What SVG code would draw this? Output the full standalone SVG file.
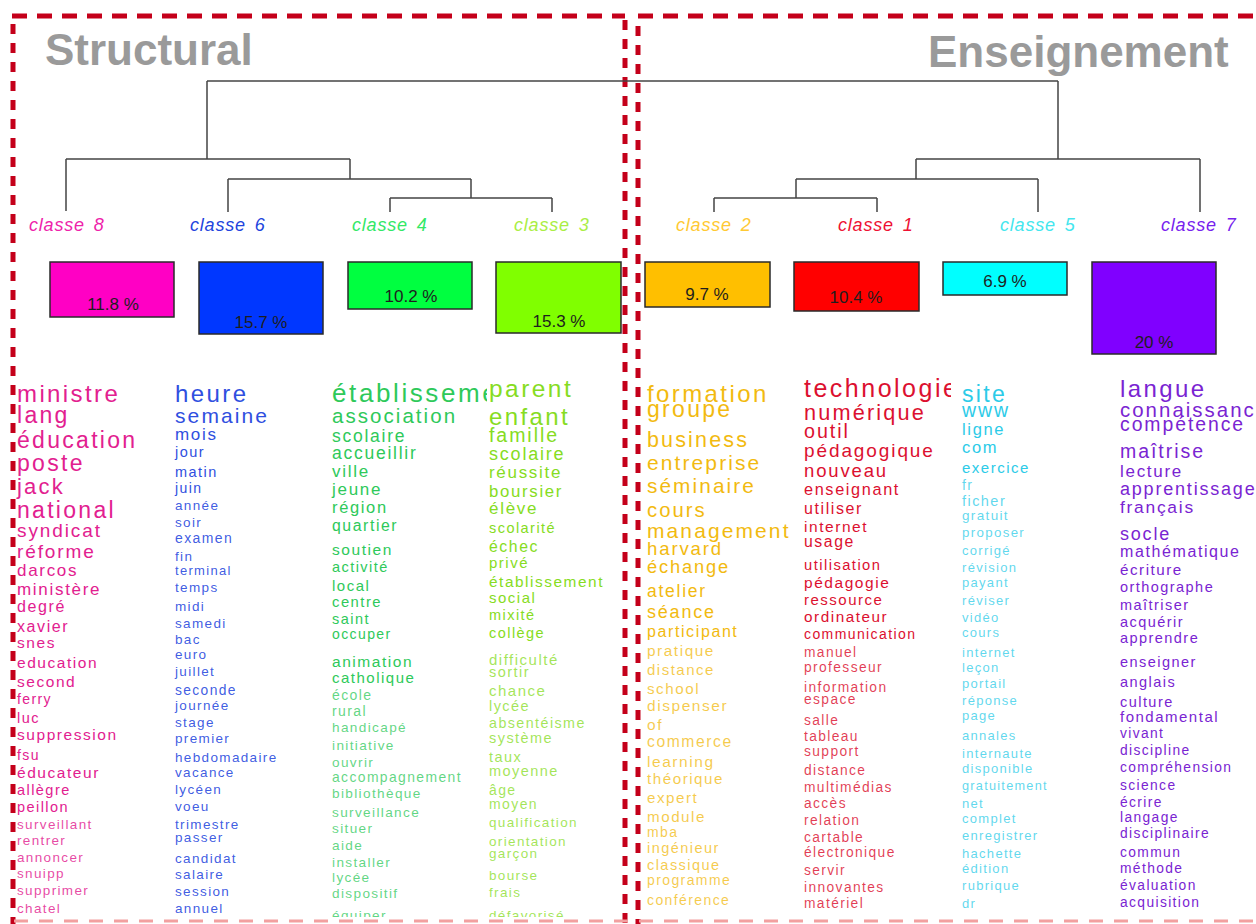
<svg xmlns="http://www.w3.org/2000/svg" width="1256" height="924" viewBox="0 0 1256 924">
<style>
.bg{fill:#fff}
.bh{fill:none;stroke:#c4001a;stroke-width:5;stroke-dasharray:15 10}
.bv{fill:none;stroke:#c4001a;stroke-width:5;stroke-dasharray:10 9}
.bb{fill:none;stroke:#f2a0a0;stroke-width:3;stroke-dasharray:14 11}
.title{font-family:"Liberation Sans",Arial,sans-serif;font-weight:bold;font-size:44px;fill:#9a9a9a}
.lbl{font-family:"Liberation Sans",Arial,sans-serif;font-style:italic;font-size:18px;letter-spacing:0.8px}
.box{stroke:#2a2a2a;stroke-width:1.5}
.pct{font-family:"Liberation Sans",Arial,sans-serif;font-size:17px;fill:#1e1e1e;text-anchor:middle}
.w text{font-family:"Liberation Sans",Arial,sans-serif;letter-spacing:0.1em}
.l{fill-opacity:0.75}
#classe6 .l{fill-opacity:0.93}
#classe1 .l{fill-opacity:0.82}
#classe8 .l{fill-opacity:0.82}
.dendro path{fill:none;stroke:#444;stroke-width:1.5}
</style>
<defs>
<clipPath id="k8"><rect x="0" y="370" width="172" height="547"/></clipPath>
<clipPath id="k6"><rect x="172" y="370" width="156" height="547"/></clipPath>
<clipPath id="k4"><rect x="328" y="370" width="159" height="547"/></clipPath>
<clipPath id="k3"><rect x="487" y="370" width="136" height="547"/></clipPath>
<clipPath id="k2"><rect x="641" y="370" width="155" height="547"/></clipPath>
<clipPath id="k1"><rect x="800" y="370" width="151" height="547"/></clipPath>
<clipPath id="k5"><rect x="955" y="370" width="160" height="547"/></clipPath>
<clipPath id="k7"><rect x="1115" y="370" width="141" height="547"/></clipPath>
</defs>
<rect class="bg" x="0" y="0" width="1256" height="924"/>

<g id="frames">
<path class="bh" d="M12 16H625"/>
<path class="bh" d="M638 16H1256"/>
<path class="bv" d="M13 24V924"/>
<path class="bv" d="M625 20V924"/>
<path class="bv" d="M638 26V924"/>
<path class="bb" d="M14 921H1256"/>
<text class="title" x="45" y="65">Structural</text>
<text class="title" x="928" y="67">Enseignement</text>
</g>

<g id="connectors" class="dendro">
<path d="M207 81H1058"/>
<path d="M207 81V159M66 159H350M66 159V211M350 159V179M228 179H471M228 179V212M471 179V198M390 198H552M390 198V212M552 198V212"/>
<path d="M1058 81V159M916 159H1200M1200 159V212M916 159V179M796 179H1038M1038 179V212M796 179V198M714 198H877M714 198V212M877 198V212"/>
</g>

<g id="classe8">
<text class="lbl" x="29" y="231" fill="#ee22aa">classe<tspan dx="9">8</tspan></text>
<rect class="box" x="50" y="262" width="124" height="55" fill="#ff00c4"/>
<text class="pct" x="113" y="310">11.8 %</text>
<g class="w" fill="#e2208f" clip-path="url(#k8)">
<text x="17" y="402" font-size="24">ministre</text>
<text x="17" y="423" font-size="23">lang</text>
<text x="17" y="448" font-size="23">éducation</text>
<text x="17" y="471" font-size="23">poste</text>
<text x="17" y="494" font-size="22">jack</text>
<text x="17" y="518" font-size="23">national</text>
<text x="17" y="537" font-size="19">syndicat</text>
<text x="17" y="558" font-size="19">réforme</text>
<text x="17" y="576" font-size="17">darcos</text>
<text x="17" y="595" font-size="17">ministère</text>
<text x="17" y="612" font-size="16">degré</text>
<text x="17" y="632" font-size="16">xavier</text>
<text x="17" y="648" font-size="15.5">snes</text>
<text x="17" y="668" font-size="15.5">education</text>
<text x="17" y="687" font-size="15.5">second</text>
<text x="17" y="704" font-size="14">ferry</text>
<text x="17" y="723" font-size="14.5">luc</text>
<text x="17" y="740" font-size="15.5">suppression</text>
<text x="17" y="760" font-size="14">fsu</text>
<text x="17" y="778" font-size="15.5">éducateur</text>
<text x="17" y="795" font-size="14.5">allègre</text>
<text x="17" y="812" font-size="14.5">peillon</text>
<text class="l" x="17" y="829" font-size="13.5">surveillant</text>
<text class="l" x="17" y="845" font-size="13.5">rentrer</text>
<text class="l" x="17" y="862" font-size="13.5">annoncer</text>
<text class="l" x="17" y="878" font-size="13.5">snuipp</text>
<text class="l" x="17" y="895" font-size="13.5">supprimer</text>
<text class="l" x="17" y="913" font-size="13.5">chatel</text>
</g>
</g>

<g id="classe6">
<text class="lbl" x="190" y="231" fill="#2244dd">classe<tspan dx="9">6</tspan></text>
<rect class="box" x="199" y="262" width="124" height="72" fill="#0037ff"/>
<text class="pct" x="261" y="328">15.7 %</text>
<g class="w" fill="#2f4fe0" clip-path="url(#k6)">
<text x="175" y="402" font-size="24">heure</text>
<text x="175" y="423" font-size="21">semaine</text>
<text x="175" y="440" font-size="17">mois</text>
<text x="175" y="457" font-size="14.5">jour</text>
<text x="175" y="477" font-size="14.5">matin</text>
<text x="175" y="493" font-size="14">juin</text>
<text class="l" x="175" y="510" font-size="13.5">année</text>
<text class="l" x="175" y="527" font-size="13.5">soir</text>
<text class="l" x="175" y="543" font-size="14">examen</text>
<text class="l" x="175" y="561" font-size="13.5">fin</text>
<text class="l" x="175" y="575" font-size="13">terminal</text>
<text class="l" x="175" y="592" font-size="13.5">temps</text>
<text class="l" x="175" y="611" font-size="13.5">midi</text>
<text class="l" x="175" y="628" font-size="13.5">samedi</text>
<text class="l" x="175" y="644" font-size="13.5">bac</text>
<text class="l" x="175" y="659" font-size="13.5">euro</text>
<text class="l" x="175" y="676" font-size="13.5">juillet</text>
<text class="l" x="175" y="695" font-size="13.8">seconde</text>
<text class="l" x="175" y="710" font-size="13.5">journée</text>
<text class="l" x="175" y="727" font-size="13.5">stage</text>
<text class="l" x="175" y="743" font-size="13.5">premier</text>
<text class="l" x="175" y="762" font-size="13.5">hebdomadaire</text>
<text class="l" x="175" y="777" font-size="13.5">vacance</text>
<text class="l" x="175" y="794" font-size="13.5">lycéen</text>
<text class="l" x="175" y="811" font-size="13.5">voeu</text>
<text class="l" x="175" y="829" font-size="13.5">trimestre</text>
<text class="l" x="175" y="842" font-size="13.5">passer</text>
<text class="l" x="175" y="863" font-size="13.5">candidat</text>
<text class="l" x="175" y="879" font-size="13.5">salaire</text>
<text class="l" x="175" y="896" font-size="13.5">session</text>
<text class="l" x="175" y="913" font-size="13.5">annuel</text>
</g>
</g>

<g id="classe4">
<text class="lbl" x="352" y="231" fill="#33e866">classe<tspan dx="9">4</tspan></text>
<rect class="box" x="348" y="262" width="124" height="47" fill="#00ff40"/>
<text class="pct" x="411" y="302">10.2 %</text>
<g class="w" fill="#2ec95a" clip-path="url(#k4)">
<text x="332" y="402" font-size="26">établissement</text>
<text x="332" y="423" font-size="20.5">association</text>
<text x="332" y="442" font-size="17.5">scolaire</text>
<text x="332" y="459" font-size="17.5">accueillir</text>
<text x="332" y="477" font-size="17">ville</text>
<text x="332" y="495" font-size="17">jeune</text>
<text x="332" y="513" font-size="16.5">région</text>
<text x="332" y="531" font-size="15.8">quartier</text>
<text x="332" y="555" font-size="15.5">soutien</text>
<text x="332" y="572" font-size="14.5">activité</text>
<text x="332" y="591" font-size="15">local</text>
<text x="332" y="607" font-size="14.8">centre</text>
<text x="332" y="624" font-size="14.5">saint</text>
<text x="332" y="639" font-size="14">occuper</text>
<text x="332" y="667" font-size="15.5">animation</text>
<text x="332" y="683" font-size="15">catholique</text>
<text class="l" x="332" y="700" font-size="14">école</text>
<text class="l" x="332" y="716" font-size="14">rural</text>
<text class="l" x="332" y="732" font-size="13.6">handicapé</text>
<text class="l" x="332" y="750" font-size="13.6">initiative</text>
<text class="l" x="332" y="767" font-size="13.6">ouvrir</text>
<text class="l" x="332" y="782" font-size="13.9">accompagnement</text>
<text class="l" x="332" y="798" font-size="13.6">bibliothèque</text>
<text class="l" x="332" y="817" font-size="13.6">surveillance</text>
<text class="l" x="332" y="833" font-size="13.6">situer</text>
<text class="l" x="332" y="850" font-size="13.6">aide</text>
<text class="l" x="332" y="867" font-size="13.6">installer</text>
<text class="l" x="332" y="882" font-size="13.6">lycée</text>
<text class="l" x="332" y="898" font-size="13.6">dispositif</text>
<text class="l" x="332" y="920" font-size="13.6">équiper</text>
</g>
</g>

<g id="classe3">
<text class="lbl" x="514" y="231" fill="#aaee44">classe<tspan dx="9">3</tspan></text>
<rect class="box" x="496" y="262" width="125" height="71" fill="#80ff00"/>
<text class="pct" x="559" y="327">15.3 %</text>
<g class="w" fill="#86dc22" clip-path="url(#k3)">
<text x="489" y="397" font-size="24.5">parent</text>
<text x="489" y="425" font-size="24">enfant</text>
<text x="489" y="442" font-size="19.5">famille</text>
<text x="489" y="460" font-size="18">scolaire</text>
<text x="489" y="478" font-size="17">réussite</text>
<text x="489" y="497" font-size="16.8">boursier</text>
<text x="489" y="514" font-size="17">élève</text>
<text x="489" y="533" font-size="14.5">scolarité</text>
<text x="489" y="552" font-size="15.8">échec</text>
<text x="489" y="568" font-size="15">privé</text>
<text x="489" y="587" font-size="15.4">établissement</text>
<text x="489" y="603" font-size="15">social</text>
<text x="489" y="620" font-size="14.5">mixité</text>
<text x="489" y="638" font-size="14.5">collège</text>
<text class="l" x="489" y="665" font-size="15">difficulté</text>
<text class="l" x="489" y="677" font-size="14.5">sortir</text>
<text class="l" x="489" y="696" font-size="15">chance</text>
<text class="l" x="489" y="711" font-size="14.5">lycée</text>
<text class="l" x="489" y="728" font-size="14.3">absentéisme</text>
<text class="l" x="489" y="743" font-size="14.5">système</text>
<text class="l" x="489" y="762" font-size="14.5">taux</text>
<text class="l" x="489" y="776" font-size="14.5">moyenne</text>
<text class="l" x="489" y="795" font-size="14">âge</text>
<text class="l" x="489" y="809" font-size="14">moyen</text>
<text class="l" x="489" y="827" font-size="13.5">qualification</text>
<text class="l" x="489" y="846" font-size="13.5">orientation</text>
<text class="l" x="489" y="858" font-size="13.5">garçon</text>
<text class="l" x="489" y="880" font-size="13.5">bourse</text>
<text class="l" x="489" y="897" font-size="13.5">frais</text>
<text class="l" x="489" y="920" font-size="13.5">défavorisé</text>
</g>
</g>

<g id="classe2">
<text class="lbl" x="676" y="231" fill="#ffc933">classe<tspan dx="9">2</tspan></text>
<rect class="box" x="645" y="262" width="125" height="45" fill="#ffbf00"/>
<text class="pct" x="707" y="300">9.7 %</text>
<g class="w" fill="#f2ba10" clip-path="url(#k2)">
<text x="647" y="402" font-size="24">formation</text>
<text x="647" y="417" font-size="23">groupe</text>
<text x="647" y="447" font-size="21.5">business</text>
<text x="647" y="470" font-size="21">entreprise</text>
<text x="647" y="493" font-size="20.8">séminaire</text>
<text x="647" y="517" font-size="20.3">cours</text>
<text x="647" y="538" font-size="21">management</text>
<text x="647" y="555" font-size="18.6">harvard</text>
<text x="647" y="573" font-size="18.3">échange</text>
<text x="647" y="597" font-size="17.5">atelier</text>
<text x="647" y="618" font-size="18">séance</text>
<text x="647" y="637" font-size="16">participant</text>
<text class="l" x="647" y="656" font-size="15.4">pratique</text>
<text class="l" x="647" y="675" font-size="15">distance</text>
<text class="l" x="647" y="694" font-size="15.2">school</text>
<text class="l" x="647" y="711" font-size="15.5">dispenser</text>
<text class="l" x="647" y="730" font-size="15.5">of</text>
<text class="l" x="647" y="747" font-size="15.7">commerce</text>
<text class="l" x="647" y="767" font-size="15.5">learning</text>
<text class="l" x="647" y="784" font-size="15.2">théorique</text>
<text class="l" x="647" y="803" font-size="15.2">expert</text>
<text class="l" x="647" y="822" font-size="15.2">module</text>
<text class="l" x="647" y="837" font-size="14">mba</text>
<text class="l" x="647" y="853" font-size="14.5">ingénieur</text>
<text class="l" x="647" y="870" font-size="14.5">classique</text>
<text class="l" x="647" y="885" font-size="14">programme</text>
<text class="l" x="647" y="905" font-size="14">conférence</text>
</g>
</g>

<g id="classe1">
<text class="lbl" x="838" y="231" fill="#ee1133">classe<tspan dx="9">1</tspan></text>
<rect class="box" x="794" y="262" width="125" height="49" fill="#ff0000"/>
<text class="pct" x="856" y="303">10.4 %</text>
<g class="w" fill="#dc1030" clip-path="url(#k1)">
<text x="804" y="397" font-size="25">technologie</text>
<text x="804" y="420" font-size="21.7">numérique</text>
<text x="804" y="438" font-size="19.7">outil</text>
<text x="804" y="457" font-size="19">pédagogique</text>
<text x="804" y="477" font-size="18.5">nouveau</text>
<text x="804" y="495" font-size="16.3">enseignant</text>
<text x="804" y="514" font-size="16">utiliser</text>
<text x="804" y="532" font-size="15.5">internet</text>
<text x="804" y="547" font-size="15.8">usage</text>
<text x="804" y="570" font-size="14.7">utilisation</text>
<text x="804" y="588" font-size="15.5">pédagogie</text>
<text x="804" y="605" font-size="15">ressource</text>
<text x="804" y="622" font-size="15.3">ordinateur</text>
<text x="804" y="639" font-size="14">communication</text>
<text class="l" x="804" y="657" font-size="13.8">manuel</text>
<text class="l" x="804" y="672" font-size="13.8">professeur</text>
<text class="l" x="804" y="692" font-size="13.8">information</text>
<text class="l" x="804" y="704" font-size="13.8">espace</text>
<text class="l" x="804" y="725" font-size="13.8">salle</text>
<text class="l" x="804" y="741" font-size="13.8">tableau</text>
<text class="l" x="804" y="756" font-size="13.8">support</text>
<text class="l" x="804" y="775" font-size="13.8">distance</text>
<text class="l" x="804" y="792" font-size="13.8">multimédias</text>
<text class="l" x="804" y="808" font-size="13.8">accès</text>
<text class="l" x="804" y="825" font-size="13.8">relation</text>
<text class="l" x="804" y="842" font-size="13.8">cartable</text>
<text class="l" x="804" y="857" font-size="13.8">électronique</text>
<text class="l" x="804" y="875" font-size="13.8">servir</text>
<text class="l" x="804" y="892" font-size="13.8">innovantes</text>
<text class="l" x="804" y="908" font-size="13.8">matériel</text>
</g>
</g>

<g id="classe5">
<text class="lbl" x="1000" y="231" fill="#44e6ee">classe<tspan dx="9">5</tspan></text>
<rect class="box" x="943" y="262" width="124" height="33" fill="#00ffff"/>
<text class="pct" x="1005" y="287">6.9 %</text>
<g class="w" fill="#2ccbe8" clip-path="url(#k5)">
<text x="962" y="402" font-size="23">site</text>
<text x="962" y="417" font-size="19.5">www</text>
<text x="962" y="435" font-size="16.5">ligne</text>
<text x="962" y="453" font-size="16.5">com</text>
<text x="962" y="473" font-size="15">exercice</text>
<text class="l" x="962" y="490" font-size="14">fr</text>
<text class="l" x="962" y="506" font-size="14.5">ficher</text>
<text class="l" x="962" y="520" font-size="13.5">gratuit</text>
<text class="l" x="962" y="537" font-size="13.3">proposer</text>
<text class="l" x="962" y="555" font-size="13">corrigé</text>
<text class="l" x="962" y="572" font-size="13">révision</text>
<text class="l" x="962" y="587" font-size="13">payant</text>
<text class="l" x="962" y="605" font-size="13">réviser</text>
<text class="l" x="962" y="622" font-size="13">vidéo</text>
<text class="l" x="962" y="637" font-size="13">cours</text>
<text class="l" x="962" y="657" font-size="13">internet</text>
<text class="l" x="962" y="672" font-size="13">leçon</text>
<text class="l" x="962" y="688" font-size="13">portail</text>
<text class="l" x="962" y="705" font-size="13">réponse</text>
<text class="l" x="962" y="720" font-size="13">page</text>
<text class="l" x="962" y="740" font-size="13">annales</text>
<text class="l" x="962" y="758" font-size="13">internaute</text>
<text class="l" x="962" y="773" font-size="13">disponible</text>
<text class="l" x="962" y="790" font-size="12.7">gratuitement</text>
<text class="l" x="962" y="808" font-size="13">net</text>
<text class="l" x="962" y="823" font-size="13">complet</text>
<text class="l" x="962" y="840" font-size="13">enregistrer</text>
<text class="l" x="962" y="858" font-size="13">hachette</text>
<text class="l" x="962" y="873" font-size="13">édition</text>
<text class="l" x="962" y="890" font-size="13">rubrique</text>
<text class="l" x="962" y="908" font-size="13">dr</text>
</g>
</g>

<g id="classe7">
<text class="lbl" x="1161" y="231" fill="#7722ee">classe<tspan dx="9">7</tspan></text>
<rect class="box" x="1092" y="262" width="124" height="92" fill="#8000ff"/>
<text class="pct" x="1154" y="348">20 %</text>
<g class="w" fill="#7a24d2" clip-path="url(#k7)">
<text x="1120" y="397" font-size="24">langue</text>
<text x="1120" y="417" font-size="20.4">connaissance</text>
<text x="1120" y="431" font-size="19.4">compétence</text>
<text x="1120" y="458" font-size="19.5">maîtrise</text>
<text x="1120" y="477" font-size="17">lecture</text>
<text x="1120" y="495" font-size="18">apprentissage</text>
<text x="1120" y="513" font-size="17.4">français</text>
<text x="1120" y="540" font-size="18">socle</text>
<text x="1120" y="557" font-size="16">mathématique</text>
<text x="1120" y="575" font-size="15.2">écriture</text>
<text x="1120" y="592" font-size="14.5">orthographe</text>
<text x="1120" y="610" font-size="14.5">maîtriser</text>
<text x="1120" y="627" font-size="14.5">acquérir</text>
<text x="1120" y="643" font-size="14.5">apprendre</text>
<text x="1120" y="667" font-size="14.5">enseigner</text>
<text x="1120" y="687" font-size="14.5">anglais</text>
<text x="1120" y="707" font-size="14.5">culture</text>
<text x="1120" y="722" font-size="15">fondamental</text>
<text x="1120" y="738" font-size="13.8">vivant</text>
<text x="1120" y="755" font-size="13.8">discipline</text>
<text x="1120" y="772" font-size="13.8">compréhension</text>
<text x="1120" y="790" font-size="13.8">science</text>
<text x="1120" y="807" font-size="13.8">écrire</text>
<text x="1120" y="822" font-size="13.8">langage</text>
<text x="1120" y="838" font-size="13.8">disciplinaire</text>
<text x="1120" y="857" font-size="13.8">commun</text>
<text x="1120" y="873" font-size="13.8">méthode</text>
<text x="1120" y="890" font-size="13.8">évaluation</text>
<text x="1120" y="907" font-size="13.8">acquisition</text>
</g>
</g>
</svg>
